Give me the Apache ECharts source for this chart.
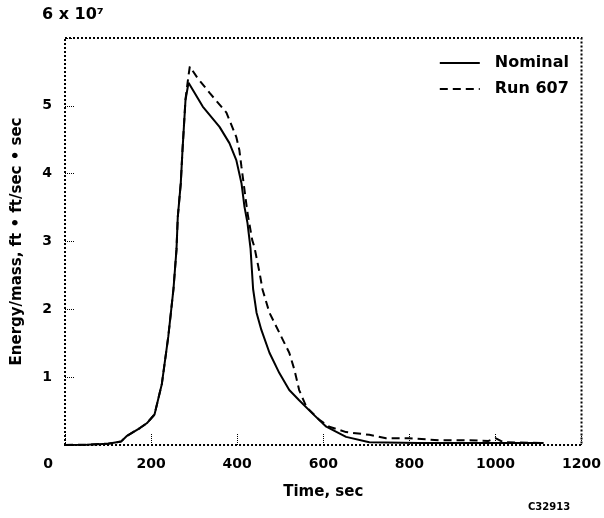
<!DOCTYPE html>
<html>
<head>
<meta charset="utf-8">
<script src="https://cdn.jsdelivr.net/npm/echarts@6/dist/echarts.min.js"></script>
<style>
    html, body { margin: 0; padding: 0; background: #fff; }
    #chart { width: 604px; height: 518px; }
</style>
</head>
<body>
<div id="chart"></div>
<script>
    // values in units of 10^7 (ft/sec)^2
    let nominalTime = [0, 50, 100, 130, 143, 174, 190, 208, 225, 240, 252, 259, 262, 269, 273, 280, 287,
        320, 359, 382, 398, 410, 417, 424, 431, 437, 445, 456, 475, 498, 521, 544, 574, 607, 653, 707, 822, 1112];
    let nominalValue = [0, 0.005, 0.02, 0.05, 0.13, 0.25, 0.32, 0.45, 0.90, 1.60, 2.30, 2.88, 3.36, 3.86, 4.35, 5.09, 5.34,
        4.99, 4.69, 4.45, 4.20, 3.86, 3.51, 3.27, 2.90, 2.30, 1.95, 1.70, 1.36, 1.06, 0.81, 0.66, 0.47, 0.27, 0.12, 0.04, 0.03, 0.03];

    let runTime = [0, 50, 100, 130, 143, 174, 190, 208, 225, 240, 252, 259, 262, 269, 273, 280, 287, 290,
        308, 336, 375, 398, 405, 410, 417, 424, 435, 440, 452, 459, 475, 503, 521, 533, 544, 561, 591, 614, 653, 707, 746,
        799, 869, 938, 984, 1000, 1019, 1112];
    let runValue = [0, 0.005, 0.02, 0.05, 0.13, 0.25, 0.32, 0.45, 0.90, 1.60, 2.30, 2.88, 3.36, 3.86, 4.35, 5.10, 5.45, 5.58,
        5.41, 5.19, 4.90, 4.54, 4.35, 4.10, 3.76, 3.42, 3.02, 2.92, 2.54, 2.29, 1.95, 1.59, 1.36, 1.11, 0.81, 0.56, 0.37, 0.27, 0.19, 0.15, 0.10,
        0.10, 0.07, 0.07, 0.06, 0.10, 0.04, 0.03];

    let seriesNames = ['Nominal', 'Run 607'];
    let xTicks = [0, 200, 400, 600, 800, 1000, 1200];
    let yTicks = [1, 2, 3, 4, 5];

    let font = 'DejaVu Sans';

    let chart = echarts.init(document.getElementById('chart'));

    chart.setOption({
        animation: false,
        textStyle: { fontFamily: font, color: '#000' },
        grid: {
            left: 65,
            right: 21,
            top: 38,
            bottom: 73,
            show: true,
            borderColor: '#000',
            borderWidth: 2,
            borderType: [2, 2]
        },
        legend: {
            data: seriesNames,
            orient: 'vertical',
            right: 30,
            top: 50,
            itemWidth: 40,
            itemHeight: 14,
            itemGap: 10,
            itemStyle: { color: 'transparent', borderColor: 'transparent', borderWidth: 0 },
            textStyle: { fontFamily: font, fontWeight: 'bold', fontSize: 16, color: '#000', padding: [0, 0, 0, 10] }
        },
        xAxis: {
            type: 'value',
            min: 0,
            max: 1200,
            interval: 200,
            name: 'Time, sec',
            nameLocation: 'middle',
            nameGap: 40,
            nameTextStyle: { fontFamily: font, fontWeight: 'bold', fontSize: 15, color: '#000' },
            axisLine: { show: false },
            axisTick: {
                show: true,
                inside: true,
                length: 12,
                lineStyle: { color: '#000', type: 'dotted', width: 1 }
            },
            splitLine: { show: false },
            axisLabel: {
                margin: 12,
                fontFamily: font,
                fontWeight: 'bold',
                fontSize: 14,
                color: '#000',
                formatter: function (v) {
                    if (xTicks.indexOf(v) < 0) return '';
                    return v === 0 ? '{z|0}' : String(v);
                },
                rich: {
                    z: { fontFamily: font, fontWeight: 'bold', fontSize: 14, color: '#000', padding: [0, 34, 0, 0] }
                }
            }
        },
        yAxis: {
            type: 'value',
            min: 0,
            max: 6,
            interval: 1,
            name: 'Energy/mass, ft • ft/sec • sec',
            nameLocation: 'middle',
            nameGap: 40,
            nameTextStyle: { fontFamily: font, fontWeight: 'bold', fontSize: 15, color: '#000' },
            axisLine: { show: false },
            axisTick: {
                show: true,
                inside: true,
                length: 10,
                lineStyle: { color: '#000', type: 'dotted', width: 1 }
            },
            splitLine: { show: false },
            axisLabel: {
                margin: 13,
                fontFamily: font,
                fontWeight: 'bold',
                fontSize: 14,
                color: '#000',
                formatter: function (v) {
                    return yTicks.indexOf(v) < 0 ? '' : String(v);
                }
            }
        },
        graphic: [
            {
                type: 'text',
                left: 42,
                top: 7,
                style: { text: '6 x 10⁷', font: 'bold 16px "DejaVu Sans"', fill: '#000' }
            },
            {
                type: 'text',
                left: 528,
                top: 502,
                style: { text: 'C32913', font: 'bold 10px "DejaVu Sans"', fill: '#000' }
            }
        ],
        series: [
            {
                name: seriesNames[0],
                type: 'line',
                symbol: 'none',
                data: nominalTime.map((t, i) => [t, nominalValue[i]]),
                lineStyle: { color: '#000', width: 2, type: 'solid' },
                itemStyle: { color: '#000' }
            },
            {
                name: seriesNames[1],
                type: 'line',
                symbol: 'none',
                data: runTime.map((t, i) => [t, runValue[i]]),
                lineStyle: { color: '#000', width: 2, type: [8, 5] },
                itemStyle: { color: '#000' }
            }
        ]
    });
</script>
</body>
</html>
